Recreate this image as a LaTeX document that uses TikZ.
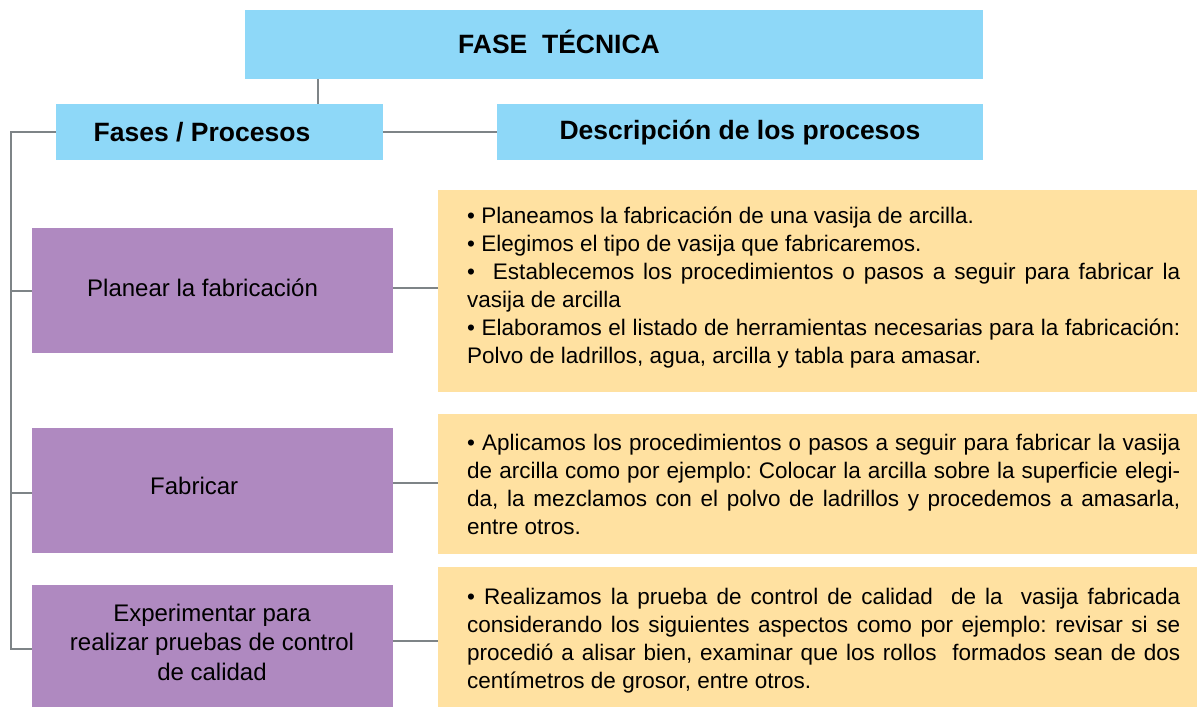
\documentclass[tikz,border=0pt]{standalone}
\usepackage{fontspec}
\setmainfont{Liberation Sans}
\setlength{\parindent}{0pt}
\frenchspacing
\definecolor{hdrblue}{HTML}{8ED8F8}
\definecolor{phasepurple}{HTML}{AF89C0}
\definecolor{descyellow}{HTML}{FFE1A1}
\definecolor{linkgray}{HTML}{7E8487}
\newcommand\descsetup{\hyphenpenalty=10000 \tolerance=9999 \frenchspacing}
\tikzset{
  boxshape/.style={draw=none, inner sep=0pt, outer sep=0pt, anchor=north west},
  bluebox/.style={boxshape, fill=hdrblue},
  purplebox/.style={boxshape, fill=phasepurple},
  yellowbox/.style={boxshape, fill=descyellow},
  hdrtext/.style={inner sep=0pt, font=\fontsize{26.5}{30}\selectfont\bfseries},
  phasetext/.style={inner sep=0pt, font=\fontsize{24}{29.5}\selectfont},
  desctext/.style={inner sep=0pt, anchor=west, text width=713pt, align=justify,
    font=\fontsize{22.5}{28}\selectfont},
  link/.style={draw=linkgray, line width=2pt}
}
\begin{document}
\begin{tikzpicture}[x=1pt,y=-1pt]
\useasboundingbox (0,0) rectangle (1197,707);
% boxes
\node[bluebox, minimum width=738pt, minimum height=69pt] (title) at (245,10) {};
\node[bluebox, minimum width=327pt, minimum height=56pt] (fp) at (56,104) {};
\node[bluebox, minimum width=486pt, minimum height=56pt] (dp) at (497,104) {};
\node[purplebox, minimum width=361pt, minimum height=125pt] (p1) at (32,228) {};
\node[purplebox, minimum width=361pt, minimum height=125pt] (p2) at (32,428) {};
\node[purplebox, minimum width=361pt, minimum height=122pt] (p3) at (32,585) {};
\node[yellowbox, minimum width=759pt, minimum height=202pt] (y1) at (438,190) {};
\node[yellowbox, minimum width=759pt, minimum height=140pt] (y2) at (438,414) {};
\node[yellowbox, minimum width=759pt, minimum height=140pt] (y3) at (438,567) {};
% header texts
\node[hdrtext, font=\fontsize{26.5}{30}\selectfont\bfseries] (titletext) at (559,42) {FASE\ \ TÉCNICA};
\node[hdrtext] (fptext) at (202,132) {Fases / Procesos};
\node[hdrtext] (dptext) at (740,133) {Descripción de los procesos};
% phase texts
\node[phasetext, anchor=west] (p1text) at (87,288) {Planear la fabricación};
\node[phasetext, anchor=west] (p2text) at (150,486) {Fabricar};
\node[phasetext, align=center] (p3text) at (212,642) {Experimentar para\\realizar pruebas de control\\de calidad};
% description texts
\node[desctext] (y1text) at (467,288) {\descsetup • Planeamos la fabricación de una vasija de arcilla.\par
• Elegimos el tipo de vasija que fabricaremos.\par
•\ \ Establecemos los procedimientos o pasos a seguir para fabricar la\linebreak vasija de arcilla\par
• Elaboramos el listado de herramientas necesarias para la fabricación:\linebreak Polvo de ladrillos, agua, arcilla y tabla para amasar.};
\node[desctext] (y2text) at (467,484) {\descsetup • Aplicamos los procedimientos o pasos a seguir para fabricar la vasija\linebreak de arcilla como por ejemplo: Colocar la arcilla sobre la superficie elegi-\linebreak da, la mezclamos con el polvo de ladrillos y procedemos a amasarla,\linebreak entre otros.};
\node[desctext] (y3text) at (467,641) {\descsetup • Realizamos la prueba de control de calidad\ \ de la\ \ vasija fabricada\linebreak considerando los siguientes aspectos como por ejemplo: revisar si se\linebreak procedió a alisar bien, examinar que los rollos\ \ formados sean de dos\linebreak centímetros de grosor, entre otros.};
% connectors
\coordinate (tx) at (318,0);
\coordinate (spine) at (10.5,132);
\draw[link] (title.south -| tx) -- (fp.north -| tx);
\draw[link] (fp.east) -- (dp.west);
\draw[link] (fp.west) -- (spine) -- ([yshift=-3pt]spine |- p3.west) -- ([yshift=-3pt]p3.west);
\draw[link] (spine |- p1.west) -- (p1.west);
\draw[link] ([yshift=-2pt]spine |- p2.west) -- ([yshift=-2pt]p2.west);
\draw[link] ([yshift=2.5pt]p1.east) -- ([yshift=2.5pt]p1.east -| y1.west);
\draw[link] ([yshift=7.5pt]p2.east) -- ([yshift=7.5pt]p2.east -| y2.west);
\draw[link] ([yshift=5pt]p3.east) -- ([yshift=5pt]p3.east -| y3.west);
\end{tikzpicture}
\end{document}
